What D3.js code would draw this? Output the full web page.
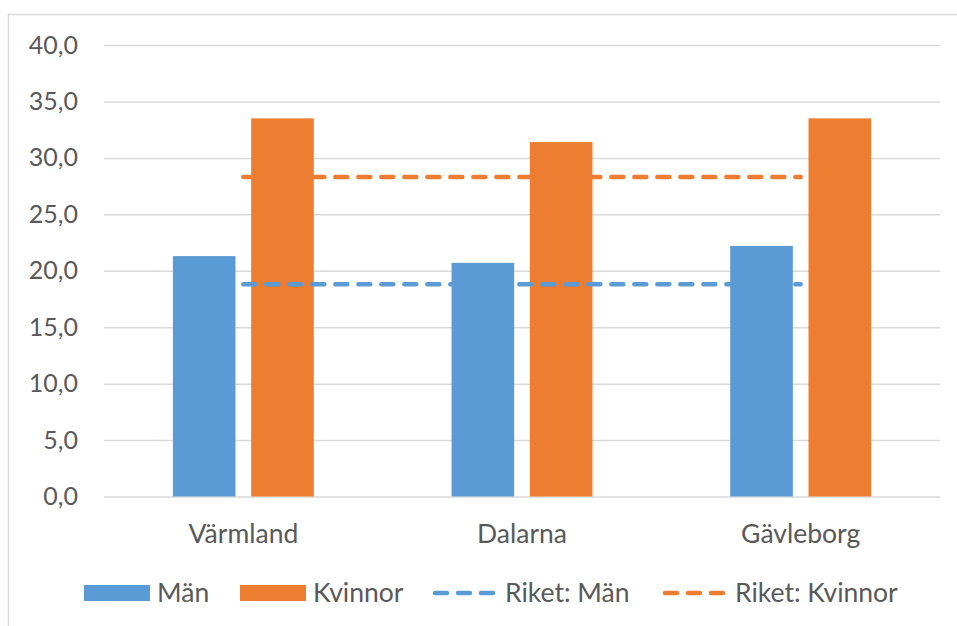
<!DOCTYPE html>
<html>
<head>
<meta charset="utf-8">
<script src="https://cdn.jsdelivr.net/npm/d3@7"></script>
<style>
  body { margin: 0; background: #fff; }
  text { font-family: Lato, "Open Sans", sans-serif; fill: #595959; }
</style>
</head>
<body>
<div id="chart"></div>
<script>
// data
const regions = ["Värmland", "Dalarna", "Gävleborg"];
const series = ["Män", "Kvinnor"];
const manValues = [21.3, 20.7, 22.2];
const kvinnorValues = [33.5, 31.4, 33.5];
const riketMan = 18.8;
const riketKvinnor = 28.3;
const yTicks = [0, 5, 10, 15, 20, 25, 30, 35, 40];

const width = 957, height = 626;
const margin = {top: 45, right: 17, bottom: 129, left: 104};
const colors = {"Män": "#5B9BD5", "Kvinnor": "#ED7D31"};

const rows = regions.map((r, i) => ({region: r, "Män": manValues[i], "Kvinnor": kvinnorValues[i]}));

let svg = d3.select("#chart").append("svg")
  .attr("width", width)
  .attr("height", height);

// outer frame (only top and left edge visible in the picture)
svg.append("path")
  .attr("d", `M8.5,${height} V14.5 H${width}`)
  .attr("fill", "none")
  .attr("stroke", "#d9d9d9")
  .attr("stroke-width", 1.5);

let x0 = d3.scaleBand()
  .domain(regions)
  .range([margin.left, width - margin.right]);

let x1 = d3.scaleBand()
  .domain(series)
  .range([0, x0.bandwidth()])
  .paddingInner(0.2)
  .paddingOuter(0.88);

let y = d3.scaleLinear()
  .domain([0, 40])
  .range([height - margin.bottom - 0.5, margin.top]);

// gridlines + labels
let yAxis = d3.axisLeft(y)
  .tickValues(yTicks)
  .tickSize(-(width - margin.left - margin.right))
  .tickPadding(26)
  .tickFormat(d => d3.format(".1f")(d).replace(".", ","));

let gy = svg.append("g")
  .attr("transform", `translate(${margin.left},0)`)
  .call(yAxis);
gy.select(".domain").remove();
gy.selectAll(".tick line").attr("stroke", "#d9d9d9").attr("stroke-width", 1.5);
gy.selectAll(".tick text").attr("font-size", 25).style("fill", "#595959");

// bars
svg.append("g").selectAll("g")
  .data(rows)
  .join("g")
  .attr("transform", d => `translate(${x0(d.region)},0)`)
  .selectAll("rect")
  .data(d => series.map(s => ({key: s, value: d[s]})))
  .join("rect")
  .attr("x", d => x1(d.key))
  .attr("width", x1.bandwidth())
  .attr("y", d => y(d.value))
  .attr("height", d => y(0) - y(d.value))
  .attr("fill", d => colors[d.key]);

// national reference lines
const riket = [
  {name: "Riket: Män", value: riketMan, color: colors["Män"]},
  {name: "Riket: Kvinnor", value: riketKvinnor, color: colors["Kvinnor"]}
];
const xStart = x0(regions[0]) + x0.bandwidth() / 2;
const xEnd = x0(regions[regions.length - 1]) + x0.bandwidth() / 2;

svg.append("g").selectAll("line")
  .data(riket)
  .join("line")
  .attr("x1", xStart)
  .attr("x2", xEnd)
  .attr("y1", d => y(d.value))
  .attr("y2", d => y(d.value))
  .attr("stroke", d => d.color)
  .attr("stroke-width", 4.5)
  .attr("stroke-linecap", "round")
  .attr("stroke-dasharray", "12,11");

// category labels
svg.append("g").selectAll("text")
  .data(regions)
  .join("text")
  .attr("x", d => x0(d) + x0.bandwidth() / 2)
  .attr("y", 543)
  .attr("text-anchor", "middle")
  .attr("font-size", 26.5)
  .text(d => d);

// legend
const legendItems = [
  {name: "Män", type: "rect", color: colors["Män"], x: 84},
  {name: "Kvinnor", type: "rect", color: colors["Kvinnor"], x: 240},
  {name: "Riket: Män", type: "dash", color: colors["Män"], x: 432},
  {name: "Riket: Kvinnor", type: "dash", color: colors["Kvinnor"], x: 662}
];
let legend = svg.append("g").selectAll("g")
  .data(legendItems)
  .join("g")
  .attr("transform", d => `translate(${d.x},593)`);

legend.filter(d => d.type === "rect").append("rect")
  .attr("x", 0).attr("y", -8)
  .attr("width", 66).attr("height", 16)
  .attr("fill", d => d.color);

legend.filter(d => d.type === "dash").append("line")
  .attr("x1", 3).attr("x2", 63)
  .attr("stroke", d => d.color)
  .attr("stroke-width", 4.5)
  .attr("stroke-linecap", "round")
  .attr("stroke-dasharray", "12,11");

legend.append("text")
  .attr("x", 73)
  .attr("y", 8.5)
  .attr("font-size", 26.5)
  .text(d => d.name);
</script>
</body>
</html>
